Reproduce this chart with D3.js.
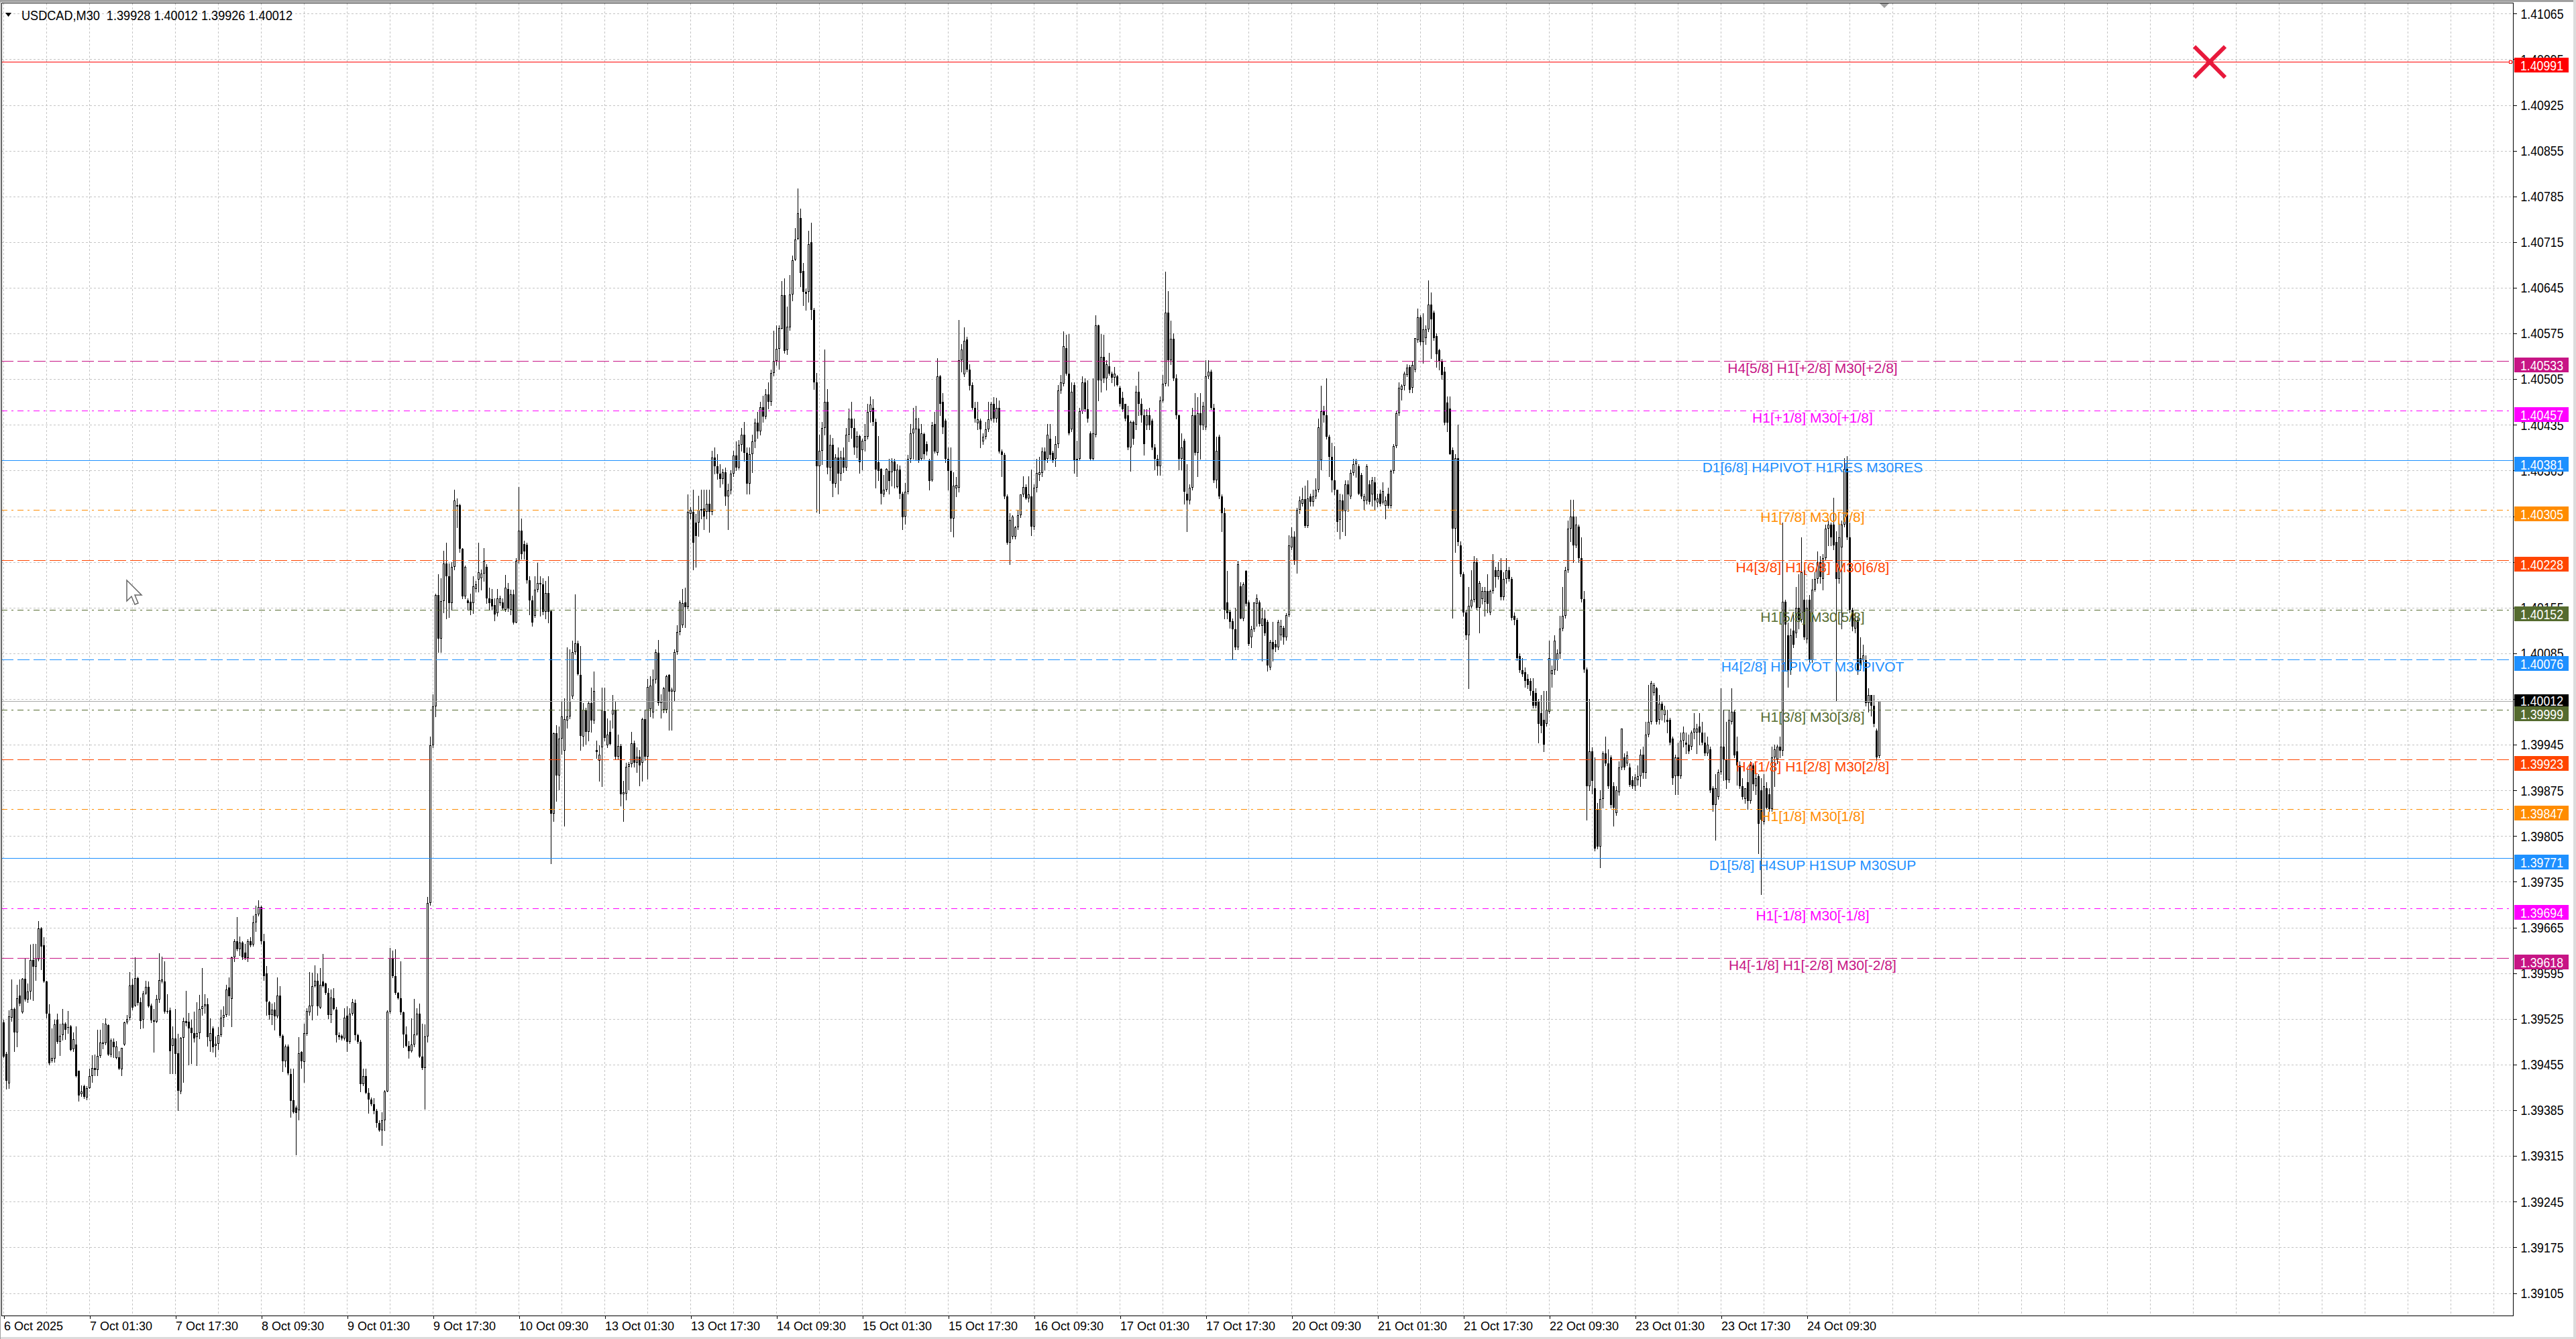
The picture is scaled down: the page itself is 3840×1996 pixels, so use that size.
<!DOCTYPE html>
<html>
<head>
<meta charset="utf-8">
<script src="https://cdn.jsdelivr.net/npm/d3@7"></script>
<style>
html, body { margin: 0; padding: 0; background: #fff; }
svg { display: block; }
</style>
</head>
<body>
<div id="chart"></div>
<script>
// USDCAD M30 bars, in points (0.00001) above 1.39000: [open, high, low, close]
const BASE = 1.39;
const candles = [
[520,524,466,467],[471,474,418,430],[426,538,419,529],[527,585,522,540],[540,542,476,504],[504,577,483,557],[561,585,545,548],[535,588,534,586],[586,617,553,555],[555,579,551,567],
[567,639,556,615],[615,640,554,605],[605,640,584,618],[616,675,614,664],[664,666,601,636],[638,650,581,582],[582,583,527,533],[533,547,455,457],[461,510,459,465],[464,524,459,517],
[524,533,488,490],[490,518,469,499],[500,540,493,518],[518,520,494,508],[512,537,503,513],[514,516,477,478],[479,504,476,494],[486,514,436,437],[446,446,399,408],[410,423,407,414],
[422,424,404,406],[405,422,401,419],[419,449,419,437],[437,469,428,450],[450,470,438,447],[447,508,438,468],[468,508,466,489],[487,519,480,489],[488,526,486,518],[516,517,469,470],
[470,495,467,492],[490,495,466,482],[465,491,464,483],[466,476,448,449],[448,481,439,481],[486,521,485,520],[520,531,518,525],[527,597,524,576],[577,586,539,542],[545,619,544,588],
[588,590,546,549],[551,558,510,522],[524,568,511,564],[564,583,563,574],[574,582,543,544],[545,548,520,523],[521,540,474,523],[521,562,520,556],[555,626,551,584],[582,620,580,585],
[582,613,534,536],[536,563,534,537],[538,542,442,476],[484,514,442,495],[495,540,442,471],[472,502,385,415],[414,497,411,496],[496,527,428,522],[522,568,515,519],[521,534,455,510],
[511,524,457,503],[503,536,490,495],[497,551,454,503],[503,562,495,540],[540,603,531,544],[544,563,534,547],[547,557,484,497],[491,526,476,503],[510,514,474,482],[484,498,467,487],
[487,512,479,500],[500,539,498,527],[527,544,514,531],[531,577,529,570],[573,589,531,560],[556,620,514,619],[619,647,613,644],[644,681,630,632],[632,651,622,642],[642,644,616,619],
[627,640,616,618],[618,647,613,644],[644,650,636,638],[639,683,637,673],[673,699,659,685],[685,707,683,696],[696,699,640,644],[644,655,584,591],[595,606,531,552],[551,553,525,531],
[531,548,517,539],[539,551,508,529],[529,589,527,561],[561,575,497,499],[499,501,445,460],[460,486,452,483],[483,486,440,442],[441,449,375,399],[400,449,381,382],[389,392,317,381],
[385,497,371,472],[474,476,450,460],[459,518,428,503],[502,541,500,537],[535,597,531,545],[544,596,524,575],[575,607,574,583],[583,595,531,544],[542,603,541,577],[582,625,574,575],
[579,580,563,565],[565,572,526,531],[531,570,520,558],[557,572,539,540],[539,543,490,500],[500,504,494,497],[499,501,493,495],[495,541,493,527],[530,544,476,490],[490,541,488,533],
[533,556,531,551],[550,555,493,500],[500,502,488,490],[490,493,414,425],[425,449,423,437],[437,449,411,412],[412,419,381,401],[401,405,392,394],[394,404,380,384],[384,387,359,366],
[366,370,353,354],[354,382,332,370],[370,416,354,414],[414,538,414,536],[536,634,534,618],[618,630,589,591],[591,632,563,565],[565,566,556,557],[557,613,532,535],[535,536,482,501],
[501,514,483,484],[484,491,465,476],[476,526,474,486],[486,556,483,501],[501,541,500,533],[533,548,466,467],[467,518,448,450],[450,517,387,498],[498,712,490,703],[703,958,700,944],
[944,1022,941,1004],[1004,1176,988,1174],[1174,1206,1087,1108],[1108,1200,1087,1165],[1165,1242,1148,1223],[1223,1254,1138,1203],[1203,1223,1140,1162],[1162,1225,1152,1217],[1217,1336,1213,1319],[1310,1322,1278,1312],
[1312,1314,1240,1245],[1245,1246,1169,1172],[1172,1220,1169,1217],[1166,1169,1152,1162],[1164,1176,1145,1152],[1162,1203,1147,1188],[1184,1196,1179,1191],[1198,1254,1179,1209],[1200,1213,1183,1207],[1207,1246,1196,1227],
[1217,1222,1162,1169],[1169,1186,1152,1162],[1168,1184,1152,1157],[1159,1169,1135,1145],[1147,1184,1142,1169],[1162,1173,1159,1169],[1163,1169,1152,1154],[1152,1205,1150,1186],[1184,1193,1150,1154],[1152,1183,1145,1175],
[1175,1183,1130,1132],[1132,1231,1132,1227],[1227,1340,1224,1273],[1273,1291,1230,1237],[1252,1258,1230,1241],[1251,1254,1193,1197],[1197,1203,1145,1166],[1166,1173,1127,1132],[1142,1203,1140,1183],[1183,1224,1179,1193],
[1191,1203,1142,1193],[1191,1200,1145,1149],[1149,1196,1138,1177],[1177,1203,1132,1149],[1150,1151,763,839],[839,964,828,963],[963,975,859,898],[898,973,876,954],[954,1012,931,988],[936,1016,821,984],
[982,1094,971,988],[988,1091,985,1012],[1019,1104,1016,1087],[1087,1175,1084,1100],[1100,1104,1052,1053],[1052,1096,937,959],[958,1009,943,999],[999,1002,946,965],[965,1012,951,1009],[1009,1033,965,982],
[982,1057,978,1027],[937,951,925,934],[920,944,890,930],[941,1033,881,999],[997,1033,951,955],[944,985,941,961],[965,982,945,946],[991,1021,971,999],[999,1012,924,927],[927,961,924,943],
[943,946,852,869],[869,890,828,872],[870,917,861,911],[911,918,876,915],[915,965,911,947],[947,951,911,917],[917,941,903,927],[927,937,882,913],[917,986,890,984],[984,999,922,927],
[927,1046,893,1034],[1000,1050,988,1036],[995,1060,986,1045],[1045,1091,1040,1087],[1086,1105,1006,1009],[1009,1022,986,1012],[999,1034,995,1031],[999,1052,995,1050],[1052,1053,968,1026],[1026,1033,968,1029],
[1026,1091,1012,1087],[1087,1128,1084,1118],[1118,1166,1114,1163],[1128,1184,1125,1162],[1163,1186,1125,1156],[1156,1329,1154,1302],[1299,1309,1292,1305],[1302,1336,1213,1254],[1285,1299,1218,1265],[1285,1326,1265,1305],
[1304,1336,1292,1306],[1307,1336,1275,1295],[1302,1336,1292,1314],[1314,1336,1271,1302],[1302,1395,1298,1385],[1385,1400,1360,1372],[1372,1390,1352,1360],[1360,1375,1340,1352],[1352,1368,1345,1362],[1362,1370,1312,1325],
[1325,1345,1275,1335],[1335,1366,1330,1360],[1360,1395,1356,1388],[1388,1410,1365,1370],[1370,1412,1368,1405],[1405,1430,1395,1420],[1420,1440,1380,1392],[1392,1400,1330,1345],[1345,1400,1330,1390],[1390,1420,1362,1410],
[1410,1445,1400,1438],[1438,1455,1415,1425],[1425,1470,1420,1462],[1462,1480,1440,1448],[1448,1490,1445,1482],[1482,1500,1460,1470],[1470,1520,1465,1515],[1515,1579,1510,1533],[1533,1587,1527,1551],[1551,1587,1521,1583],
[1582,1655,1582,1634],[1634,1659,1545,1548],[1549,1616,1543,1585],[1584,1665,1580,1635],[1635,1694,1626,1687],[1688,1736,1687,1719],[1720,1797,1719,1759],[1752,1766,1647,1668],[1671,1683,1618,1639],[1639,1644,1611,1636],
[1639,1732,1623,1712],[1715,1745,1597,1611],[1611,1614,1490,1500],[1500,1515,1302,1372],[1372,1420,1300,1395],[1395,1440,1375,1430],[1430,1550,1420,1470],[1470,1490,1360,1370],[1370,1420,1350,1405],[1405,1415,1325,1345],
[1345,1390,1340,1385],[1385,1400,1330,1360],[1360,1395,1350,1385],[1385,1400,1362,1370],[1370,1430,1365,1420],[1420,1460,1410,1445],[1445,1470,1415,1430],[1430,1445,1390,1400],[1400,1425,1385,1418],[1418,1420,1361,1378],
[1396,1414,1367,1411],[1411,1436,1395,1418],[1417,1467,1414,1455],[1455,1479,1439,1466],[1461,1474,1434,1439],[1439,1445,1339,1367],[1378,1418,1350,1364],[1368,1369,1314,1330],[1329,1358,1325,1336],[1336,1369,1334,1368],
[1364,1383,1330,1349],[1362,1384,1342,1379],[1379,1383,1339,1364],[1340,1375,1339,1367],[1367,1373,1322,1330],[1330,1333,1275,1294],[1295,1346,1283,1333],[1333,1389,1330,1383],[1383,1436,1378,1422],[1422,1461,1383,1429],
[1428,1464,1381,1445],[1429,1446,1378,1381],[1383,1436,1381,1422],[1421,1423,1383,1390],[1406,1410,1389,1394],[1381,1383,1336,1349],[1350,1439,1349,1434],[1436,1455,1392,1394],[1392,1537,1389,1509],[1509,1511,1450,1467],
[1470,1484,1422,1431],[1442,1445,1378,1383],[1383,1400,1336,1364],[1364,1400,1272,1292],[1292,1362,1264,1342],[1338,1355,1325,1343],[1339,1596,1333,1534],[1534,1559,1517,1550],[1512,1584,1509,1564],[1566,1570,1517,1520],
[1520,1528,1489,1495],[1496,1500,1459,1461],[1461,1470,1439,1445],[1437,1470,1428,1444],[1442,1445,1400,1428],[1410,1422,1406,1417],[1417,1439,1414,1428],[1428,1470,1425,1444],[1444,1470,1442,1467],[1467,1478,1439,1445],
[1445,1477,1439,1461],[1461,1472,1392,1394],[1394,1397,1356,1389],[1389,1392,1322,1325],[1325,1328,1252,1255],[1255,1300,1222,1289],[1264,1297,1261,1295],[1264,1280,1261,1278],[1278,1305,1275,1297],[1297,1329,1294,1329],
[1329,1356,1325,1340],[1340,1344,1321,1322],[1322,1356,1317,1329],[1325,1367,1266,1279],[1279,1344,1275,1339],[1339,1383,1333,1361],[1358,1386,1350,1362],[1361,1400,1356,1394],[1394,1400,1367,1381],[1383,1436,1378,1420],
[1414,1436,1383,1389],[1392,1395,1378,1381],[1383,1418,1372,1406],[1406,1496,1400,1488],[1488,1511,1484,1500],[1498,1578,1495,1556],[1553,1573,1511,1514],[1514,1574,1420,1422],[1428,1500,1425,1486],[1496,1500,1361,1381],
[1381,1411,1356,1383],[1383,1461,1381,1456],[1456,1509,1453,1500],[1500,1506,1456,1459],[1459,1503,1439,1445],[1422,1425,1381,1383],[1383,1506,1381,1422],[1420,1603,1417,1587],[1587,1589,1472,1503],[1503,1574,1486,1539],
[1539,1573,1500,1506],[1506,1534,1489,1528],[1525,1545,1511,1514],[1514,1517,1500,1507],[1507,1524,1495,1514],[1509,1511,1495,1496],[1492,1495,1464,1467],[1477,1486,1456,1459],[1467,1467,1442,1445],[1450,1464,1397,1400],
[1400,1442,1364,1439],[1439,1442,1406,1414],[1435,1495,1428,1486],[1486,1517,1450,1467],[1467,1475,1439,1450],[1450,1459,1389,1406],[1434,1459,1428,1450],[1450,1461,1428,1434],[1442,1445,1397,1400],[1400,1406,1367,1383],
[1383,1389,1358,1372],[1372,1479,1358,1472],[1472,1511,1470,1498],[1498,1670,1495,1607],[1607,1640,1495,1534],[1534,1595,1528,1567],[1567,1575,1503,1506],[1506,1512,1445,1450],[1450,1451,1367,1383],[1383,1422,1367,1400],
[1411,1414,1314,1333],[1330,1375,1272,1319],[1319,1344,1314,1339],[1339,1461,1336,1450],[1450,1484,1389,1392],[1392,1478,1356,1453],[1453,1484,1383,1434],[1434,1470,1428,1464],[1431,1534,1428,1509],[1509,1534,1506,1517],
[1517,1520,1459,1461],[1461,1467,1347,1350],[1350,1417,1339,1395],[1417,1420,1322,1325],[1325,1328,1272,1300],[1300,1308,1138,1152],[1163,1211,1138,1147],[1149,1152,1124,1133],[1134,1138,1077,1122],[1122,1155,1091,1094],
[1094,1227,1091,1222],[1188,1194,1138,1138],[1138,1194,1135,1191],[1211,1212,1158,1161],[1163,1166,1097,1099],[1110,1127,1094,1122],[1122,1163,1119,1163],[1161,1175,1127,1169],[1163,1166,1127,1130],[1127,1155,1074,1138],
[1138,1152,1113,1116],[1133,1136,1058,1066],[1063,1105,1060,1102],[1102,1133,1074,1091],[1099,1105,1088,1094],[1094,1136,1091,1133],[1113,1136,1105,1127],[1124,1127,1099,1110],[1110,1147,1105,1144],[1144,1266,1141,1250],
[1247,1278,1244,1264],[1264,1272,1222,1227],[1227,1308,1208,1305],[1305,1325,1300,1319],[1314,1339,1311,1321],[1321,1342,1278,1280],[1280,1350,1278,1322],[1325,1330,1311,1317],[1317,1336,1311,1325],[1325,1353,1322,1336],
[1336,1445,1333,1431],[1381,1495,1367,1456],[1456,1464,1439,1450],[1450,1506,1414,1417],[1417,1420,1356,1386],[1386,1408,1333,1350],[1350,1403,1328,1336],[1336,1336,1272,1286],[1289,1330,1261,1319],[1319,1328,1272,1303],
[1303,1350,1266,1344],[1344,1350,1303,1328],[1325,1367,1322,1361],[1361,1383,1358,1375],[1375,1383,1355,1381],[1372,1375,1328,1330],[1358,1361,1322,1325],[1318,1330,1305,1325],[1319,1375,1314,1372],[1344,1350,1314,1317],
[1328,1355,1311,1350],[1347,1355,1305,1319],[1316,1330,1310,1322],[1330,1336,1311,1314],[1316,1347,1314,1334],[1311,1325,1292,1319],[1330,1339,1308,1311],[1311,1367,1308,1364],[1364,1406,1361,1403],[1403,1456,1400,1453],
[1453,1500,1450,1492],[1489,1497,1473,1495],[1495,1517,1489,1514],[1511,1528,1509,1523],[1524,1527,1485,1489],[1492,1533,1485,1527],[1520,1568,1517,1568],[1565,1613,1562,1600],[1600,1603,1558,1562],[1562,1606,1530,1581],
[1568,1587,1559,1581],[1581,1656,1578,1619],[1619,1638,1537,1597],[1607,1610,1565,1568],[1571,1575,1524,1543],[1549,1552,1520,1533],[1533,1536,1505,1511],[1517,1524,1435,1438],[1469,1479,1425,1438],[1460,1479,1390,1390],
[1396,1400,1139,1276],[1276,1390,1240,1384],[1384,1435,1250,1256],[1250,1257,1203,1206],[1206,1209,1142,1148],[1148,1152,1107,1113],[1113,1187,1031,1158],[1157,1212,1155,1167],[1167,1234,1164,1225],[1225,1231,1152,1155],
[1155,1196,1117,1193],[1168,1187,1161,1180],[1164,1187,1142,1180],[1180,1206,1148,1161],[1148,1183,1145,1180],[1180,1237,1177,1228],[1212,1218,1187,1202],[1202,1225,1199,1212],[1212,1231,1167,1171],[1171,1209,1167,1199],
[1199,1231,1193,1212],[1212,1218,1196,1199],[1199,1202,1136,1139],[1142,1148,1129,1136],[1136,1139,1075,1078],[1081,1085,1056,1059],[1059,1078,1050,1053],[1056,1063,1034,1043],[1046,1053,1031,1037],[1043,1047,1021,1027],
[1027,1047,1002,1005],[1024,1031,1002,1005],[1012,1015,948,977],[993,1021,964,974],[983,1027,935,945],[977,1027,974,999],[996,1104,993,1078],[1053,1066,1034,1059],[1059,1113,1053,1104],[1075,1091,1059,1085],
[1085,1142,1078,1123],[1123,1187,1120,1142],[1142,1218,1139,1212],[1212,1288,1209,1276],[1276,1320,1257,1295],[1295,1320,1225,1250],[1250,1295,1247,1282],[1279,1282,1225,1231],[1231,1263,1164,1168],[1168,1180,1056,1060],
[1060,1063,830,881],[881,1015,875,935],[935,941,870,890],[878,926,783,786],[846,856,786,789],[789,875,757,862],[862,935,849,932],[932,958,913,916],[916,938,878,881],[926,929,849,853],
[881,888,821,849],[840,881,837,875],[872,919,868,910],[910,970,907,970],[926,932,907,910],[916,935,913,929],[910,916,881,884],[891,897,878,881],[881,900,875,895],[891,913,884,897],
[897,938,881,930],[930,942,894,902],[902,980,894,961],[961,1037,958,980],[980,1043,977,1040],[1024,1040,1021,1037],[1031,1034,977,980],[983,1021,977,1008],[1008,1012,983,999],[990,1005,980,999],
[983,999,964,980],[983,986,945,948],[954,958,885,894],[897,930,869,926],[926,948,869,897],[897,964,894,951],[951,973,942,964],[948,964,932,945],[945,961,932,935],[942,967,938,964],
[964,993,954,970],[964,977,932,970],[973,993,945,964],[964,980,945,948],[948,964,929,932],[932,958,929,945],[938,942,872,875],[878,881,843,853],[853,900,799,878],[865,907,862,903],
[903,1031,900,942],[942,999,891,923],[923,980,878,891],[891,999,888,983],[980,1031,977,996],[996,999,926,929],[935,958,884,913],[913,919,878,881],[881,894,862,865],[862,878,856,878],
[888,907,846,859],[859,919,856,913],[913,916,875,885],[881,913,869,894],[897,900,779,824],[875,894,716,830],[827,900,824,881],[878,888,846,849],[869,878,843,846],[846,942,843,926],
[926,945,881,938],[923,945,916,942],[942,958,926,936],[936,1285,929,1164],[1164,1167,1059,1129],[1113,1132,1034,1059],[1059,1123,1053,1113],[1120,1145,1094,1098],[1116,1187,1110,1155],[1155,1206,1123,1136],
[1136,1263,1133,1209],[1167,1212,1107,1110],[1107,1167,1101,1155],[1167,1174,1072,1075],[1075,1199,1072,1183],[1183,1209,1180,1199],[1199,1241,1193,1225],[1225,1234,1193,1202],[1199,1237,1183,1231],[1231,1282,1228,1276],
[1276,1288,1250,1282],[1282,1285,1250,1263],[1282,1323,1244,1250],[1256,1272,1012,1199],[1199,1282,1193,1263],[1247,1288,1123,1282],[1282,1384,1279,1368],[1368,1387,1260,1263],[1263,1285,1148,1152],[1152,1155,1120,1126],
[1123,1148,1117,1136],[1136,1142,1053,1059],[1078,1110,1059,1066],[1075,1098,1066,1082],[1075,1082,1005,1009],[1009,1031,996,1021],[1021,1021,989,1005],[1005,1021,973,977],[967,970,922,926],[928,1012,926,1012]
];

const timeLabels = ['6 Oct 2025', '7 Oct 01:30', '7 Oct 17:30', '8 Oct 09:30', '9 Oct 01:30', '9 Oct 17:30',
	'10 Oct 09:30', '13 Oct 01:30', '13 Oct 17:30', '14 Oct 09:30', '15 Oct 01:30', '15 Oct 17:30',
	'16 Oct 09:30', '17 Oct 01:30', '17 Oct 17:30', '20 Oct 09:30', '21 Oct 01:30', '21 Oct 17:30',
	'22 Oct 09:30', '23 Oct 01:30', '23 Oct 17:30', '24 Oct 09:30'];
const timeLabelBars = [0, 32, 64, 96, 128, 160, 192, 224, 256, 288, 320, 352, 384, 416, 448, 480, 512, 544, 576, 608, 640, 672];

const priceTicks = [1.41065, 1.40995, 1.40925, 1.40855, 1.40785, 1.40715, 1.40645, 1.40575, 1.40505, 1.40435,
	1.40365, 1.40295, 1.40225, 1.40155, 1.40085, 1.40015, 1.39945, 1.39875, 1.39805, 1.39735,
	1.39665, 1.39595, 1.39525, 1.39455, 1.39385, 1.39315, 1.39245, 1.39175, 1.39105];

const levelPrices = [1.40533, 1.40457, 1.40381, 1.40305, 1.40228, 1.40152, 1.40076,
	1.39999, 1.39923, 1.39847, 1.39771, 1.39694, 1.39618];
const levelNames = ['H4[5/8] H1[+2/8] M30[+2/8]', 'H1[+1/8] M30[+1/8]', 'D1[6/8] H4PIVOT H1RES M30RES',
	'H1[7/8] M30[7/8]', 'H4[3/8] H1[6/8] M30[6/8]', 'H1[5/8] M30[5/8]', 'H4[2/8] H1PIVOT M30PIVOT',
	'H1[3/8] M30[3/8]', 'H4[1/8] H1[2/8] M30[2/8]', 'H1[1/8] M30[1/8]', 'D1[5/8] H4SUP H1SUP M30SUP',
	'H1[-1/8] M30[-1/8]', 'H4[-1/8] H1[-2/8] M30[-2/8]'];

const bidPrice = 1.40012;
const alertPrice = 1.40991;
const headerText = 'USDCAD,M30  1.39928 1.40012 1.39926 1.40012';

// styles
const DASH = '18,6', DASHDOT = '9,6,3,6';
const levelStyle = [
	{color: '#C71585', dash: DASH}, {color: '#FF00FF', dash: DASHDOT}, {color: '#1E90FF', dash: null},
	{color: '#FF8C00', dash: DASHDOT}, {color: '#FF4500', dash: DASH}, {color: '#556B2F', dash: DASHDOT},
	{color: '#1E90FF', dash: DASH}, {color: '#556B2F', dash: DASHDOT}, {color: '#FF4500', dash: DASH},
	{color: '#FF8C00', dash: DASHDOT}, {color: '#1E90FF', dash: null}, {color: '#FF00FF', dash: DASHDOT},
	{color: '#C71585', dash: DASH}
];
const FONT = '"Liberation Sans", Arial, sans-serif';

const W = 3840, H = 1996;
const frame = {left: 2, top: 4, right: 3746, bottom: 1961};

const svg = d3.select('#chart').append('svg')
	.attr('width', W)
	.attr('height', H)

svg.append('rect').attr('width', W).attr('height', H).attr('fill', '#ffffff')

const data = candles.map((d, i) => ({
	i: i,
	o: BASE + d[0] / 100000,
	h: BASE + d[1] / 100000,
	l: BASE + d[2] / 100000,
	c: BASE + d[3] / 100000
}));

let x = d3.scaleLinear()
	.domain([0, 935])
	.range([5.5, 5.5 + 4 * 935]);
let y = d3.scaleLinear()
	.domain([1.390716, 1.410813])
	.range([1960, 4.5]);

const py = p => Math.round(y(p)) + 0.5;

// grid
let grid = svg.append('g').classed('grid', true)
	.attr('stroke', '#c4c4c4')
	.attr('stroke-width', 1)
	.attr('stroke-dasharray', '3,3')
	.attr('shape-rendering', 'crispEdges')

grid.selectAll('.vgrid')
	.data(d3.range(0, 936, 16))
	.enter().append('line')
	.attr('x1', d => x(d)).attr('x2', d => x(d))
	.attr('y1', frame.top + 1).attr('y2', frame.bottom)

grid.selectAll('.hgrid')
	.data(priceTicks)
	.enter().append('line')
	.attr('x1', frame.left).attr('x2', frame.right)
	.attr('y1', d => py(d)).attr('y2', d => py(d))

// candles
let bars = svg.append('g').classed('candles', true)
	.attr('shape-rendering', 'crispEdges')

bars.selectAll('.wick')
	.data(data)
	.enter().append('line')
	.attr('x1', d => x(d.i)).attr('x2', d => x(d.i))
	.attr('y1', d => Math.round(y(Math.max(d.h, d.o, d.c))))
	.attr('y2', d => Math.round(y(Math.min(d.l, d.o, d.c))) + 1)
	.attr('stroke', '#000')
	.attr('stroke-width', 1)

bars.selectAll('.body')
	.data(data)
	.enter().append('rect')
	.each(function(d) {
		let top = Math.round(y(Math.max(d.o, d.c)));
		let bot = Math.round(y(Math.min(d.o, d.c)));
		let r = d3.select(this);
		if (d.c >= d.o && bot - top >= 2) {
			r.attr('x', x(d.i) - 1).attr('y', top + 0.5)
				.attr('width', 2).attr('height', bot - top - 1)
				.attr('fill', '#fff').attr('stroke', '#000').attr('stroke-width', 1);
		} else {
			r.attr('x', x(d.i) - 1.5).attr('y', top)
				.attr('width', 3).attr('height', Math.max(1, bot - top))
				.attr('fill', '#000');
		}
	})

// level lines
let levels = svg.append('g').classed('levels', true)
	.attr('shape-rendering', 'crispEdges')

levels.append('line')
	.attr('x1', frame.left).attr('x2', frame.right)
	.attr('y1', py(bidPrice)).attr('y2', py(bidPrice))
	.attr('stroke', '#a8a8a8')

levels.selectAll('.level')
	.data(levelPrices)
	.enter().append('line')
	.attr('x1', frame.left).attr('x2', frame.right)
	.attr('y1', d => py(d)).attr('y2', d => py(d))
	.attr('stroke', (d, i) => levelStyle[i].color)
	.attr('stroke-dasharray', (d, i) => levelStyle[i].dash)

levels.append('line')
	.attr('x1', frame.left).attr('x2', frame.right)
	.attr('y1', py(alertPrice)).attr('y2', py(alertPrice))
	.attr('stroke', '#ff0000')

levels.append('rect')
	.attr('x', frame.right - 5.5).attr('y', py(alertPrice) - 2)
	.attr('width', 4).attr('height', 4)
	.attr('fill', '#fff').attr('stroke', '#ff0000')

svg.append('g').classed('level-labels', true)
	.selectAll('text')
	.data(levelPrices)
	.enter().append('text')
	.attr('x', 2702)
	.attr('y', d => y(d) + 18)
	.attr('text-anchor', 'middle')
	.attr('font-family', FONT)
	.attr('font-size', '21px')
	.attr('fill', (d, i) => levelStyle[i].color)
	.text((d, i) => levelNames[i])

// red cross on the alert line
let cross = svg.append('g')
	.attr('stroke', '#e8193c')
	.attr('stroke-width', 6)
	.attr('stroke-linecap', 'butt')
const cx0 = 3294, cy0 = y(alertPrice);
cross.append('line').attr('x1', cx0 - 23).attr('y1', cy0 - 23).attr('x2', cx0 + 23).attr('y2', cy0 + 23)
cross.append('line').attr('x1', cx0 + 23).attr('y1', cy0 - 23).attr('x2', cx0 - 23).attr('y2', cy0 + 23)

// mouse pointer
svg.append('path')
	.attr('transform', 'translate(189,865)')
	.attr('d', 'M0,0 L0,31 L7,24 L12,36 L17,34 L12,22 L22,22 Z')
	.attr('fill', '#fff')
	.attr('stroke', '#666')
	.attr('stroke-width', 1.5)

// axes
let axis_y = d3.axisRight()
	.scale(y)
	.tickValues(priceTicks)
	.tickSize(5)
	.tickSizeOuter(0)
	.tickFormat(d3.format('.5f'));

let gy = svg.append('g')
	.classed('y-axis', true)
	.attr('transform', `translate(${frame.right + 0.5}, 0)`)
	.call(axis_y)
gy.select('.domain').remove()
gy.selectAll('line').attr('stroke', '#000').attr('shape-rendering', 'crispEdges')
gy.selectAll('text')
	.attr('x', 11)
	.attr('fill', '#000')
	.attr('font-family', FONT)
	.attr('font-size', '21px')
	.attr('textLength', 64)
	.attr('lengthAdjust', 'spacingAndGlyphs')

let axis_x = d3.axisBottom()
	.scale(x)
	.tickValues(timeLabelBars)
	.tickSize(4)
	.tickSizeOuter(0)
	.tickFormat((d, i) => timeLabels[i]);

let gx = svg.append('g')
	.classed('x-axis', true)
	.attr('transform', `translate(0, ${frame.bottom + 0.5})`)
	.call(axis_x)
gx.select('.domain').remove()
gx.selectAll('line').attr('stroke', '#000').attr('shape-rendering', 'crispEdges')
gx.selectAll('text')
	.attr('x', 0)
	.attr('y', 9)
	.attr('text-anchor', 'start')
	.attr('fill', '#000')
	.attr('font-family', FONT)
	.attr('font-size', '18px')

// price boxes on the scale
let boxes = svg.append('g').classed('price-boxes', true)
	.attr('shape-rendering', 'crispEdges')

function priceBox(p, color, top, base) {
	let yy = Math.round(y(p));
	boxes.append('rect')
		.attr('x', frame.right + 2).attr('y', yy + top)
		.attr('width', 81).attr('height', 22)
		.attr('fill', color)
	boxes.append('text')
		.attr('x', frame.right + 11).attr('y', yy + base)
		.attr('fill', '#fff')
		.attr('font-family', FONT)
		.attr('font-size', '21px')
		.attr('textLength', 64)
		.attr('lengthAdjust', 'spacingAndGlyphs')
		.text(d3.format('.5f')(p))
}
priceBox(bidPrice, '#000000', -10, 7);
levelPrices.forEach((p, i) => priceBox(p, levelStyle[i].color, -5, 14));
priceBox(alertPrice, '#ff0000', -6, 13);

// frame and window edges
let edges = svg.append('g').attr('shape-rendering', 'crispEdges')
edges.append('rect').attr('x', 0).attr('y', 0).attr('width', W).attr('height', 3).attr('fill', '#a0a0a0')
edges.append('rect').attr('x', 0).attr('y', H - 3).attr('width', W).attr('height', 3).attr('fill', '#dcdcdc')
edges.append('rect').attr('x', W - 4).attr('y', 0).attr('width', 4).attr('height', H).attr('fill', '#dcdcdc')
edges.append('rect').attr('x', 0).attr('y', 0).attr('width', 1).attr('height', H).attr('fill', '#a0a0a0')
edges.append('rect')
	.attr('x', frame.left + 0.5).attr('y', frame.top + 0.5)
	.attr('width', frame.right - frame.left).attr('height', frame.bottom - frame.top)
	.attr('fill', 'none').attr('stroke', '#000').attr('stroke-width', 1)

// chart shift marker
svg.append('path')
	.attr('d', 'M2802,5 L2816,5 L2809,12 Z')
	.attr('fill', '#a0a0a0')

// header
svg.append('path')
	.attr('d', 'M8,19 L17,19 L12.5,25 Z')
	.attr('fill', '#000')
svg.append('text')
	.attr('x', 32)
	.attr('y', 30)
	.attr('font-family', FONT)
	.attr('font-size', '20px')
	.attr('fill', '#000')
	.attr('textLength', 404)
	.attr('lengthAdjust', 'spacingAndGlyphs')
	.style('white-space', 'pre')
	.text(headerText)
</script>
</body>
</html>
